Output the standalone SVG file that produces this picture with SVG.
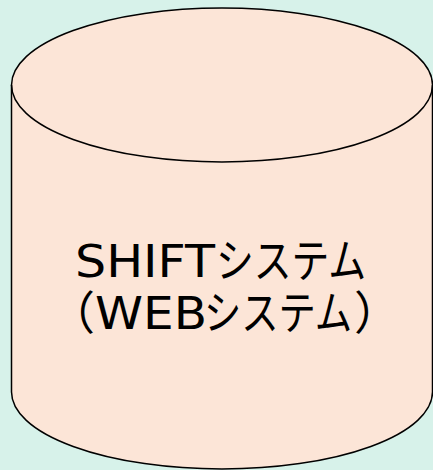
<svg xmlns="http://www.w3.org/2000/svg" width="433" height="470" viewBox="0 0 433 470">
<style>
.body{fill:#fce5d7;stroke:#000;stroke-width:1.5}
.edge{fill:none;stroke:#000;stroke-width:1.5}
.lat{font-family:"DejaVu Sans","Noto Sans CJK JP",sans-serif;font-size:45px;fill:#000}
.jp{font-family:"Noto Sans CJK JP","DejaVu Sans",sans-serif;font-size:46px;fill:#000}
</style>
<rect width="433" height="470" fill="#d7f2ea"/>
<g id="shift-system">
<path class="body" d="M11.5,85 A210.5,77 0 0 1 432.5,85 L432.5,392 A210.5,77 0 0 1 11.5,392 Z"/>
<path class="edge" d="M11.5,85 A210.5,77 0 0 0 432.5,85"/>
<text class="lat" x="75" y="277" textLength="140" lengthAdjust="spacingAndGlyphs">SHIFT</text>
<text class="jp" x="216" y="277" textLength="150" lengthAdjust="spacingAndGlyphs">システム</text>
<text class="jp" x="49" y="329">（</text>
<text class="lat" x="95" y="329" textLength="112" lengthAdjust="spacingAndGlyphs">WEB</text>
<text class="jp" x="204" y="329" textLength="148" lengthAdjust="spacingAndGlyphs">システム</text>
<text class="jp" x="354" y="329">）</text>
</g>
</svg>
